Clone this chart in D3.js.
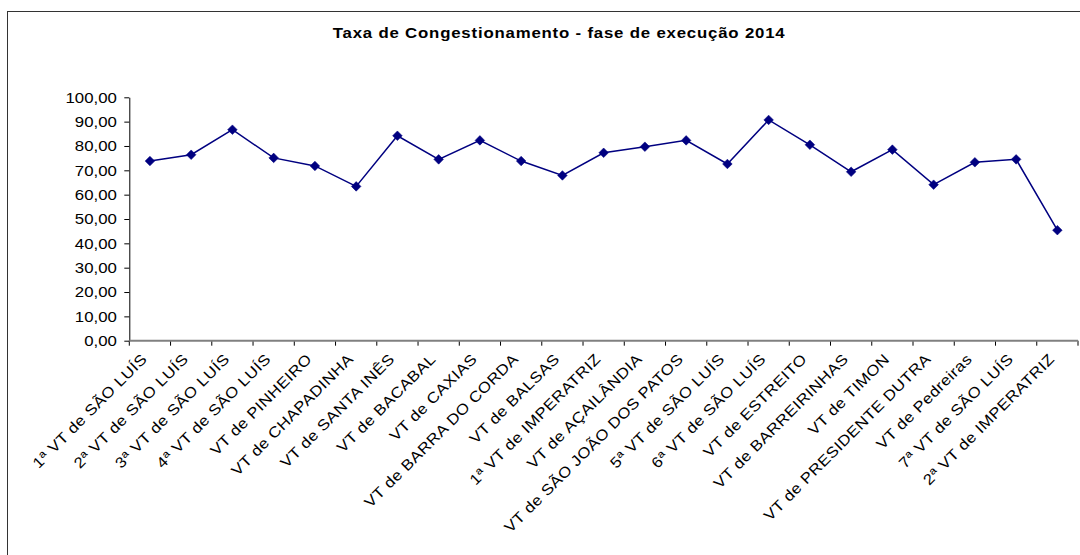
<!DOCTYPE html>
<html>
<head>
<meta charset="utf-8">
<script src="https://cdn.jsdelivr.net/npm/d3@7"></script>
<style>
	body { margin: 0; background: #fff; }
	svg { display: block; font-family: "Liberation Sans", Arial, sans-serif; }
</style>
</head>
<body>
<svg width="1080" height="555"></svg>
<script>
// data........................................................................

var titleText = "Taxa de Congestionamento - fase de execução 2014";

var varas = [
	"1ª VT de SÃO LUÍS", "2ª VT de SÃO LUÍS", "3ª VT de SÃO LUÍS",
	"4ª VT de SÃO LUÍS", "VT de PINHEIRO", "VT de CHAPADINHA",
	"VT de SANTA INÊS", "VT de BACABAL", "VT de CAXIAS",
	"VT de BARRA DO CORDA", "VT de BALSAS", "1ª VT de IMPERATRIZ",
	"VT de AÇAILÂNDIA", "VT de SÃO JOÃO DOS PATOS", "5ª VT de SÃO LUÍS",
	"6ª VT de SÃO LUÍS", "VT de ESTREITO", "VT de BARREIRINHAS",
	"VT de TIMON", "VT de PRESIDENTE DUTRA", "VT de Pedreiras",
	"7ª VT de SÃO LUÍS", "2ª VT de IMPERATRIZ"
];

var taxa = [
	73.8, 76.4, 86.7, 75.1, 71.8, 63.4, 84.2, 74.5, 82.3, 73.8, 67.9, 77.2,
	79.7, 82.3, 72.6, 90.7, 80.5, 69.4, 78.5, 64.1, 73.3, 74.5, 45.4
];

var yTicks = [0, 10, 20, 30, 40, 50, 60, 70, 80, 90, 100];

// layout......................................................................

var svg = d3.select("svg"),
	plotLeft = 129.3, plotRight = 1078, plotTop = 97.3, plotBottom = 340.7,
	navy = "#000080",
	wide = 1.12; // the source chart renders its glyphs a bit stretched sideways

var x = d3.scaleBand()
	.domain(varas)
	.range([plotLeft, plotRight])
	.paddingInner(0)
	.paddingOuter(0);

var y = d3.scaleLinear()
	.domain([0, 100])
	.range([plotBottom, plotTop]);

var fmt = function(v) { return d3.format(".2f")(v).replace(".", ","); };

// chart frame
svg.append("rect")
	.attr("x", 7.5)
	.attr("y", 11.5)
	.attr("width", 1100)
	.attr("height", 600)
	.attr("fill", "none")
	.attr("stroke", "#333")
	.attr("stroke-width", 1);

// title
svg.append("text")
	.attr("transform", "translate(332.7,37.7) scale(1.2,1)")
	.attr("textLength", 452 / 1.2)
	.attr("lengthAdjust", "spacing")
	.style("font-size", "14px")
	.style("font-weight", "bold")
	.attr("fill", "#000")
	.text(titleText);

// y axis
var yAxis = svg.append("g")
	.attr("transform", "translate(" + plotLeft + ",0)")
	.call(d3.axisLeft(y).tickValues(yTicks).tickSize(5).tickSizeOuter(0).tickFormat(fmt));

yAxis.select(".domain").attr("stroke", "#000");
yAxis.selectAll(".tick line").attr("stroke", "#000");
yAxis.selectAll(".tick text")
	.attr("transform", "scale(" + wide + ",1)")
	.attr("x", -12.5 / wide)
	.style("font-size", "15px")
	.style("font-family", "'Liberation Sans', Arial, sans-serif")
	.attr("fill", "#000");

// x axis: ticks on category boundaries
var bounds = varas.map(function(d) { return x(d); }).concat([plotRight]);

var xAxis = svg.append("g").attr("class", "x-axis");

xAxis.selectAll("line.tick")
	.data(bounds)
	.enter().append("line")
		.attr("class", "tick")
		.attr("x1", function(d) { return d; })
		.attr("x2", function(d) { return d; })
		.attr("y1", plotBottom)
		.attr("y2", plotBottom + 5)
		.attr("stroke", "#000");

xAxis.append("line")
	.attr("x1", plotLeft)
	.attr("x2", plotRight)
	.attr("y1", plotBottom)
	.attr("y2", plotBottom)
	.attr("stroke", "#808080")
	.attr("stroke-width", 2);

xAxis.selectAll("text")
	.data(varas)
	.enter().append("text")
		.attr("transform", function(d) {
			return "translate(" + (x(d) + x.bandwidth() / 2 - 2) + ",360) rotate(-45) scale(" + wide + ",1)";
		})
		.attr("text-anchor", "end")
		.style("font-size", "15px")
		.style("letter-spacing", "0.4px")
		.attr("fill", "#000")
		.text(function(d) { return d; });

// series......................................................................

var line = d3.line()
	.x(function(d, i) { return x(varas[i]) + x.bandwidth() / 2; })
	.y(function(d) { return y(d); });

svg.append("path")
	.datum(taxa)
	.attr("d", line)
	.attr("fill", "none")
	.attr("stroke", navy)
	.attr("stroke-width", 1.5);

svg.append("g")
	.selectAll("path")
	.data(taxa)
	.enter().append("path")
		.attr("d", d3.symbol(d3.symbolSquare, 46))
		.attr("transform", function(d, i) {
			return "translate(" + (x(varas[i]) + x.bandwidth() / 2) + "," + y(d) + ") rotate(45)";
		})
		.attr("fill", navy)
		.attr("stroke", navy)
		.attr("stroke-width", 0.5);
</script>
</body>
</html>
